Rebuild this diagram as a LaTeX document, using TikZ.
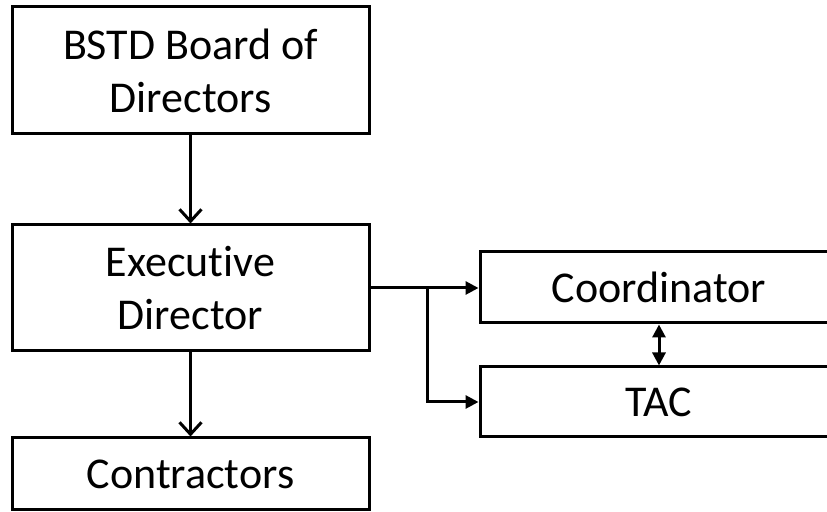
\documentclass[tikz,border=0pt]{standalone}
\usepackage{fontspec}
\setmainfont{Carlito}[Ligatures=NoCommon]
\usetikzlibrary{arrows.meta}
\tikzset{
	box/.style={draw,line width=1.5pt,align=center,minimum width=178.5pt,inner sep=0pt,font=\fontsize{22}{26.5}\selectfont},
	link/.style={line width=1.5pt},
	openhead/.style={-{Straight Barb[length=6pt,width=11pt,line width=1.5pt]}},
	fillhead/.style={-{Triangle[length=6.5pt,width=6.5pt]}},
}
\begin{document}
\begin{tikzpicture}[x=0.5pt,y=-0.5pt]
	\useasboundingbox (0,0) rectangle (827,512);
	\clip (0,0) rectangle (827,512);
	\node[box,minimum height=63.5pt] (board) at (190.5,70.5) {BSTD Board of\\Directors};
	\node[box,minimum height=63pt] (exec) at (190.5,288) {Executive\\Director};
	\node[box,minimum height=36pt] (contr) at (190.5,474) {Contractors};
	\node[box,minimum height=35.5pt,minimum width=179pt] (coord) at (659,287.5) {Coordinator};
	\node[box,minimum height=35pt,minimum width=179pt] (tac) at (659,402) {TAC};
	\coordinate (split) at (427,288);
	\draw[link,openhead] (board.south)--(exec.north);
	\draw[link,openhead] (exec.south)--(contr.north);
	\draw[link,fillhead] (exec.east)--(exec.east -| coord.west);
	\draw[link,fillhead] (split) |- (tac.west);
	\draw[link,{Triangle[length=6.5pt,width=6.5pt]}-{Triangle[length=6.5pt,width=6.5pt]}] (coord.south)--(tac.north);
\end{tikzpicture}
\end{document}
